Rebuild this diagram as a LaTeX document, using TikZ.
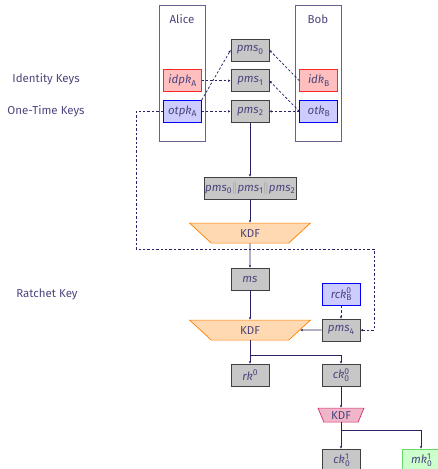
\documentclass[tikz,border=0pt]{standalone}
\usepackage{fontspec}
\setmainfont{Fira Sans}
\usetikzlibrary{positioning,calc,shapes.geometric,arrows.meta}
\definecolor{ink}{RGB}{75,70,125}
\definecolor{wire}{RGB}{40,35,100}
\definecolor{kdfpink}{RGB}{215,45,105}
\tikzset{keybox/.style={draw, line width=0.7pt, minimum width=38pt, minimum height=22pt, inner sep=1pt}}
\tikzset{pmsbox/.style={keybox, draw={black!75}, fill={black!22}}}
\tikzset{idbox/.style={keybox, draw=red!85, fill=red!25}}
\tikzset{otbox/.style={keybox, draw=blue, fill=blue!20}}
\tikzset{mkbox/.style={keybox, draw=green!75!black!60, fill=green!20}}
\tikzset{party/.style={draw=ink!85, line width=0.7pt, minimum width=46pt, minimum height=136pt}}
\tikzset{kdf/.style={trapezium, shape border rotate=180, trapezium stretches=true, trapezium angle=55, minimum width=121pt, minimum height=20pt, inner sep=0pt, draw=orange, line width=0.7pt, fill=orange!30}}
\tikzset{kdfs/.style={kdf, trapezium angle=67, minimum width=46pt, minimum height=14pt, draw=kdfpink, fill=kdfpink!35}}
\tikzset{arr/.style={draw=wire, line width=0.75pt, -{Latex[length=2.5pt,width=2.5pt]}}}
\tikzset{darr/.style={arr, dash pattern=on 2.4pt off 2pt}}
\newcommand{\idx}[1]{{\fontsize{8.5}{9}\selectfont #1}}
\newcommand{\ks}[2]{\textit{#1}\raisebox{-2.5pt}{\idx{#2}}}
\newcommand{\kss}[3]{\textit{#1}\raisebox{-2.5pt}{\rlap{\idx{#2}}}\raisebox{4.5pt}{\idx{#3}}}
\newcommand{\cc}{{\color{black!40}$\|$}}

\begin{document}
\begin{tikzpicture}[x=1pt, y=-1pt, every node/.style={font=\fontsize{11.5}{13}\selectfont, text=ink}]
  \useasboundingbox (0,0) rectangle (438,469);
  % parties
  \node[party] (alice) at (182,73) {};
  \node[party] (bob) at (318,73) {};
  \node (alicelbl) at (182,19) {Alice};
  \node (boblbl) at (318,19) {Bob};
  % pre-master secrets and keys
  \node[pmsbox] (pms0) at (250,50) {\ks{pms}{0}};
  \node[pmsbox, below=8pt of pms0] (pms1) {\ks{pms}{1}};
  \node[pmsbox, below=8pt of pms1] (pms2) {\ks{pms}{2}};
  \node[idbox, left=29pt of pms1] (idpkA) {\ks{idpk}{A}};
  \node[otbox, left=29pt of pms2] (otpkA) {\ks{otpk}{A}};
  \node[idbox, right=30pt of pms1] (idkB) {\ks{idk}{B}};
  \node[otbox, right=30pt of pms2] (otkB) {\ks{otk}{B}};
  \node (idlbl) at (46,79) {Identity Keys};
  \node (otlbl) at (46,111) {One-Time Keys};
  \node (rclbl) at (47,294) {Ratchet Key};
  \node[pmsbox, below=54pt of pms2] (concat) {\ks{pms}{0}\cc\ks{pms}{1}\cc\ks{pms}{2}};
  \node[kdf] (kdf1) at ($(concat)+(0,45)$) {KDF};
  \node[pmsbox] (ms) at ($(kdf1)+(0,46)$) {\textit{ms}};
  \node[kdf] (kdf2) at ($(ms)+(0,51)$) {KDF};
  \node[pmsbox] (pms4) at ($(kdf2)+(91,0)$) {\ks{pms}{4}};
  \node[otbox, above=13pt of pms4] (rckB) {\kss{rck}{B}{0}};
  \coordinate (br1) at ($(kdf2)+(0,25)$);
  \node[pmsbox] (rk0) at ($(br1)+(0,20)$) {\textit{rk}\raisebox{4.5pt}{\idx{0}}};
  \node[pmsbox] (ck00) at ($(rk0)+(91,0)$) {\kss{ck}{0}{0}};
  \node[kdfs] (kdf3) at ($(ck00)+(0,40)$) {KDF};
  \coordinate (br2) at ($(kdf3)+(0,15)$);
  \node[pmsbox] (ck01) at ($(ck00)+(0,85)$) {\kss{ck}{0}{1}};
  \node[mkbox] (mk01) at ($(ck01)+(80,0)$) {\kss{mk}{0}{1}};
  \coordinate (loopL) at (136,249);
  \coordinate (loopR) at (374,249);
  % key agreement
  \draw[darr] (otpkA.north east) -- (pms0.west);
  \draw[darr] (idpkA) -- (pms1);
  \draw[darr] (otpkA) -- (pms2);
  \draw[darr] (idkB.west) -- (pms0.east);
  \draw[darr] (otkB.west) -- (pms1.east);
  \draw[darr] (otkB) -- (pms2);
  \draw[darr] (otpkA.west) -| (loopL) -- (loopR) |- (pms4.east);
  % derivation chain
  \draw[arr] (pms2) -- (concat);
  \draw[arr] (concat) -- (kdf1);
  \draw[arr] (kdf1) -- (ms);
  \draw[arr] (ms) -- (kdf2);
  \draw[darr] (rckB) -- (pms4);
  \draw[arr] (pms4.west) -- (kdf2);
  \draw[draw=wire, line width=0.75pt] (kdf2) -- (br1);
  \draw[arr] (br1) -- (rk0);
  \draw[arr] (br1) -| (ck00);
  \draw[arr] (ck00) -- (kdf3);
  \draw[draw=wire, line width=0.75pt] (kdf3) -- (br2);
  \draw[arr] (br2) -- (ck01);
  \draw[arr] (br2) -| (mk01);
\end{tikzpicture}
\end{document}
